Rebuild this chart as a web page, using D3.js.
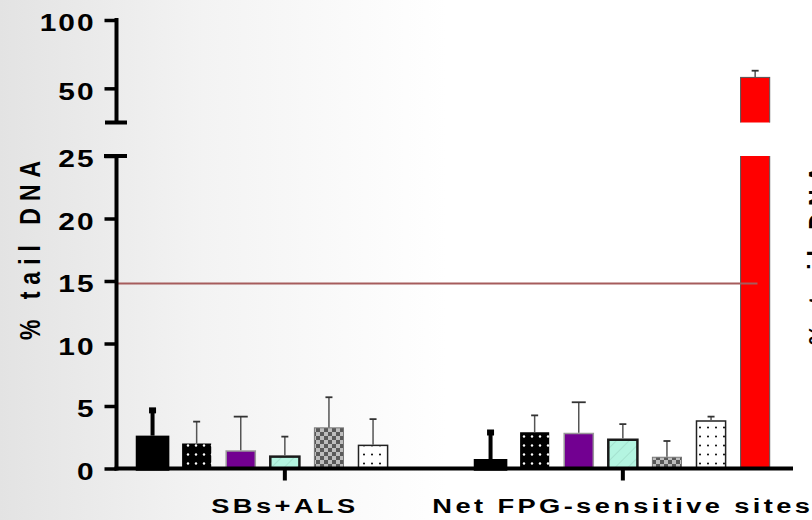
<!DOCTYPE html>
<html>
<head>
<meta charset="utf-8">
<script src="https://cdn.jsdelivr.net/npm/d3@7"></script>
<style>
	body { margin: 0; }
	text { font-family: "Liberation Sans", Arial, sans-serif; font-weight: bold; fill: #000; }
</style>
</head>
<body>
<script>
var w = 812;
var h = 520;

// data
var groups = ["SBs+ALS", "Net FPG-sensitive sites"];
var series = ["T1", "T2", "T3", "T4", "T5", "T6", "T7"];
var meansSBs = [2.45, 2.0, 1.4, 0.95, 3.25, 1.85, null];
var sdSBs = [2.2, 1.75, 2.75, 1.6, 2.45, 2.1, null];
var meansFPG = [0.58, 2.9, 2.8, 2.3, 0.9, 3.8, 58];
var sdFPG = [2.3, 1.35, 2.5, 1.25, 1.3, 0.35, 4.9];
var lowTicks = [0, 5, 10, 15, 20, 25];
var highTicks = [50, 100];
var threshold = 14.8;
var yTitle = "% tail DNA";

var means = [meansSBs, meansFPG];
var sds = [sdSBs, sdFPG];

var fills = ["#000", "url(#dotsWhite)", "#720091", "url(#aqua)", "url(#checker)", "url(#dotsBlack)", "#ff0000"];
var strokes = ["#000", "none", "#999", "#1a1a1a", "#777", "#222", "#555"];
var strokeW = [4.5, 0, 1.5, 2.5, 1, 1.5, 1];
var capW = [7, 7, 14, 7, 7, 7, 7];

var svg = d3.select("body").append("svg")
	.attr("width", w)
	.attr("height", h);

var defs = svg.append("defs");

var bg = defs.append("linearGradient")
	.attr("id", "bg")
	.attr("x1", "0%").attr("x2", "100%")
	.attr("y1", "0%").attr("y2", "0%");
bg.append("stop").attr("offset", "0%").attr("stop-color", "#e3e3e3");
bg.append("stop").attr("offset", "25%").attr("stop-color", "#f3f3f3");
bg.append("stop").attr("offset", "55%").attr("stop-color", "#ffffff");

var p1 = defs.append("pattern").attr("id", "dotsWhite")
	.attr("patternUnits", "userSpaceOnUse").attr("width", 8).attr("height", 9);
p1.append("rect").attr("width", 8).attr("height", 9).attr("fill", "#000");
p1.append("circle").attr("cx", 4).attr("cy", 4.5).attr("r", 1.2).attr("fill", "#fff");

var p2 = defs.append("pattern").attr("id", "dotsBlack")
	.attr("patternUnits", "userSpaceOnUse").attr("width", 8).attr("height", 9);
p2.append("rect").attr("width", 8).attr("height", 9).attr("fill", "#fff");
p2.append("circle").attr("cx", 4).attr("cy", 4.5).attr("r", 1).attr("fill", "#000");

var p3 = defs.append("pattern").attr("id", "checker")
	.attr("patternUnits", "userSpaceOnUse").attr("width", 8).attr("height", 8);
p3.append("rect").attr("width", 8).attr("height", 8).attr("fill", "#bdbdbd");
p3.append("rect").attr("width", 4).attr("height", 4).attr("fill", "#5a5a5a");
p3.append("rect").attr("x", 4).attr("y", 4).attr("width", 4).attr("height", 4).attr("fill", "#5a5a5a");

var p4 = defs.append("pattern").attr("id", "aqua")
	.attr("patternUnits", "userSpaceOnUse").attr("width", 9).attr("height", 9)
	.attr("patternTransform", "rotate(45)");
p4.append("rect").attr("width", 9).attr("height", 9).attr("fill", "#b4f5e1");
p4.append("line").attr("x1", 0).attr("y1", 0).attr("x2", 0).attr("y2", 9)
	.attr("stroke", "#9fdcc9").attr("stroke-width", 1.5);

svg.append("rect")
	.attr("width", w)
	.attr("height", h)
	.attr("fill", "url(#bg)");

var yLow = d3.scaleLinear().domain([0, 25]).range([468.5, 156]);
var yHigh = d3.scaleLinear().domain([25, 100]).range([122.5, 20]);
var axisX = 116.5;

var x0 = d3.scaleBand()
	.domain(groups)
	.range([130.5, 777.2])
	.paddingInner(0.0867);
var x1 = d3.scaleBand()
	.domain(series)
	.range([0, x0.bandwidth()])
	.paddingInner(0.34)
	.paddingOuter(0.17);

defs.append("clipPath").attr("id", "clipLow")
	.append("rect").attr("x", 0).attr("y", yLow(25)).attr("width", w).attr("height", h);
defs.append("clipPath").attr("id", "clipHigh")
	.append("rect").attr("x", 0).attr("y", 0).attr("width", w).attr("height", yHigh(25));

var bars = [];
groups.forEach(function (g, gi) {
	series.forEach(function (s, si) {
		if (means[gi][si] != null) {
			bars.push({ group: g, series: s, idx: si, value: means[gi][si], sd: sds[gi][si] });
		}
	});
});

var barX = function (d) { return x0(d.group) + x1(d.series); };

// lower segment of bars
svg.append("g").attr("clip-path", "url(#clipLow)")
	.selectAll("rect")
	.data(bars)
	.join("rect")
	.attr("x", barX)
	.attr("width", x1.bandwidth())
	.attr("y", function (d) { return d.value > 25 ? yLow(25) - 5 : yLow(d.value); })
	.attr("height", function (d) { return yLow(0) - (d.value > 25 ? yLow(25) - 5 : yLow(d.value)); })
	.attr("fill", function (d) { return fills[d.idx]; })
	.attr("stroke", function (d) { return strokes[d.idx]; })
	.attr("stroke-width", function (d) { return strokeW[d.idx]; });

// upper segment of bars
svg.append("g").attr("clip-path", "url(#clipHigh)")
	.selectAll("rect")
	.data(bars.filter(function (d) { return d.value > 25; }))
	.join("rect")
	.attr("x", barX)
	.attr("width", x1.bandwidth())
	.attr("y", function (d) { return yHigh(d.value); })
	.attr("height", function (d) { return yHigh(25) + 5 - yHigh(d.value); })
	.attr("fill", function (d) { return fills[d.idx]; })
	.attr("stroke", function (d) { return strokes[d.idx]; })
	.attr("stroke-width", function (d) { return strokeW[d.idx]; });

// error bars
var yOf = function (v) { return v > 25 ? yHigh(v) : yLow(v); };
var err = svg.append("g")
	.selectAll("g")
	.data(bars)
	.join("g")
	.attr("transform", function (d) { return "translate(" + (barX(d) + x1.bandwidth() / 2) + ",0)"; });

err.append("line")
	.attr("y1", function (d) { return yOf(d.value) - strokeW[d.idx] / 2; })
	.attr("y2", function (d) { return yOf(d.value + d.sd); })
	.attr("stroke", function (d) { return d.idx == 0 ? "#000" : "#555"; })
	.attr("stroke-width", function (d) { return d.idx == 0 ? 4 : 1.5; });

err.append("line")
	.attr("x1", function (d) { return -capW[d.idx] / 2; })
	.attr("x2", function (d) { return capW[d.idx] / 2; })
	.attr("y1", function (d) { return yOf(d.value + d.sd); })
	.attr("y2", function (d) { return yOf(d.value + d.sd); })
	.attr("stroke", function (d) { return d.idx == 0 ? "#000" : "#333"; })
	.attr("stroke-width", function (d) { return d.idx == 0 ? 6 : 1.8; });

// threshold line
var redBar = bars[bars.length - 1];
svg.append("line")
	.attr("x1", axisX)
	.attr("x2", barX(redBar) + x1.bandwidth() * 0.58)
	.attr("y1", yLow(threshold))
	.attr("y2", yLow(threshold))
	.attr("stroke", "#a65c5c")
	.attr("stroke-width", 2);

// y axes
var sx = 1.3;
function styleTicks(g) {
	g.select(".domain").remove();
	g.selectAll(".tick line")
		.attr("stroke", "#000")
		.attr("stroke-width", 3.5);
	g.selectAll(".tick text")
		.attr("font-size", 23)
		.attr("letter-spacing", 1.5)
		.attr("x", -21 / sx)
		.attr("dy", "0.47em")
		.attr("transform", "scale(" + sx + ",1)");
}

svg.append("g")
	.attr("transform", "translate(" + axisX + ",0)")
	.call(d3.axisLeft(yLow).tickValues(lowTicks).tickSize(12).tickSizeOuter(0))
	.call(styleTicks);

svg.append("g")
	.attr("transform", "translate(" + axisX + ",0)")
	.call(d3.axisLeft(yHigh).tickValues(highTicks).tickSize(12).tickSizeOuter(0))
	.call(styleTicks);

var axisLines = svg.append("g").attr("stroke", "#000").attr("stroke-width", 4);
axisLines.append("line")
	.attr("x1", axisX).attr("x2", axisX)
	.attr("y1", yHigh(100) - 2).attr("y2", yHigh(25));
axisLines.append("line")
	.attr("x1", axisX).attr("x2", axisX)
	.attr("y1", yLow(25)).attr("y2", yLow(0) + 2);
axisLines.append("line")
	.attr("x1", axisX - 11.5).attr("x2", axisX + 10.5)
	.attr("y1", yHigh(25)).attr("y2", yHigh(25));
axisLines.append("line")
	.attr("x1", axisX - 12.5).attr("x2", axisX + 10.5)
	.attr("y1", yLow(25)).attr("y2", yLow(25));

// x axis
var xAxis = svg.append("g")
	.attr("transform", "translate(0," + yLow(0) + ")")
	.call(d3.axisBottom(x0).tickSize(12).tickSizeOuter(0));
xAxis.select(".domain").remove();
xAxis.selectAll(".tick line").attr("stroke", "#000").attr("stroke-width", 4);
xAxis.selectAll(".tick text")
	.attr("font-size", 21)
	.attr("letter-spacing", 2.6)
	.attr("y", 0)
	.attr("dy", 0)
	.attr("transform", "translate(0,44) scale(" + sx + ",1)");

axisLines.append("line")
	.attr("x1", axisX - 2).attr("x2", 793)
	.attr("y1", yLow(0)).attr("y2", yLow(0));

// y titles (second one is cut off at the right edge, as in the source)
[[40, 247], [829, 252]].forEach(function (p) {
	svg.append("text")
		.attr("transform", "translate(" + p[0] + "," + p[1] + ") scale(" + sx + ",1) rotate(-90)")
		.attr("text-anchor", "middle")
		.attr("font-size", 23)
		.attr("letter-spacing", 7)
		.text(yTitle);
});
</script>
</body>
</html>
